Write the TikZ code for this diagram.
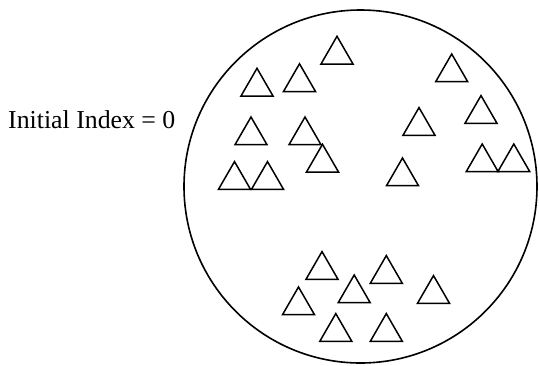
\documentclass[tikz,border=0pt]{standalone}
\usepackage{fontspec}
\setmainfont{Liberation Serif}
\usetikzlibrary{shapes.geometric}
\begin{document}
\begin{tikzpicture}[x=1pt,y=-1pt,
  tri/.style={regular polygon, regular polygon sides=3, draw=black, line width=1.5pt,
              minimum size=36.95pt, inner sep=0pt, outer sep=0pt},
  setcircle/.style={circle, draw=black, line width=1.6pt, minimum size=353pt, inner sep=0pt}]
\fill[white] (0,0) rectangle (539,365);
\useasboundingbox (0,0) rectangle (539,365);
\node[setcircle] (set) at (360.5,186.5) {};
\node[anchor=base west, inner sep=0pt, font=\fontsize{25.8}{30}\selectfont] (label) at (8,128) {Initial Index = 0};
% triangles: (centre x, base y), centroid = base y - 9.24
\foreach \n/\cx/\by in {1/337/64, 2/257/96, 3/299.5/91.5, 4/451.7/81.7, 5/251/144.7,
  6/305/144.7, 7/481/123.3, 8/419/135.3, 9/322.5/172, 10/234.5/189.3, 11/267.5/189.3,
  12/402.5/185.7, 13/482.2/171.7, 14/513.8/171.7, 15/322/279.3, 16/386.3/283.3,
  17/354.2/302.7, 18/433.5/303.3, 19/298.5/314.7, 20/335.8/341.3, 21/386.3/341.3}
  \node[tri] (t\n) at (\cx,\by-9.24) {};
\end{tikzpicture}
\end{document}
